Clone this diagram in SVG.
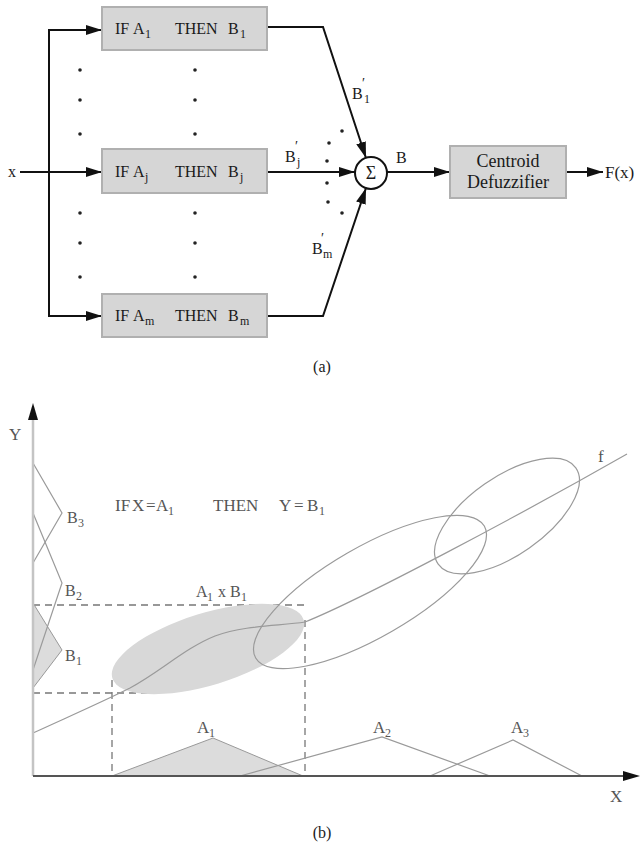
<svg xmlns="http://www.w3.org/2000/svg" width="641" height="844" viewBox="0 0 641 844">
<defs>
<style>
.t{font-family:"Liberation Serif","Times New Roman",serif;fill:#1a1a1a}
.g{font-family:"Liberation Serif","Times New Roman",serif;fill:#555}
.s12{font-size:12px}
.p{font-size:14px}
.s16{font-size:16px}
.s17{font-size:17px}
.s18{font-size:18px}
.box{fill:#d6d6d6;stroke:#b0b0b0;stroke-width:2}
.con{fill:none;stroke:#111;stroke-width:2}
.dot{fill:#222}
.thin{fill:none;stroke:#9a9a9a;stroke-width:1.2}
.dash{fill:none;stroke:#777;stroke-width:1.3;stroke-dasharray:7 5}
</style>
<marker id="ah" markerUnits="userSpaceOnUse" markerWidth="16" markerHeight="10" refX="16" refY="5" orient="auto">
<path d="M0,0 L16,5 L0,10 z" fill="#111"/>
</marker>
</defs>
<rect width="641" height="844" fill="#fff"/>

<!-- Part (a) -->
<g id="connectors">
<line class="con" x1="20" y1="172" x2="102" y2="172" marker-end="url(#ah)"/>
<line class="con" x1="49" y1="30" x2="49" y2="316"/>
<line class="con" x1="48" y1="30" x2="102" y2="30" marker-end="url(#ah)"/>
<line class="con" x1="48" y1="316" x2="102" y2="316" marker-end="url(#ah)"/>
<polyline class="con" points="267,27 323,27 366,158" marker-end="url(#ah)"/>
<line class="con" x1="267" y1="172" x2="355" y2="172" marker-end="url(#ah)"/>
<polyline class="con" points="267,316 323,316 366,188" marker-end="url(#ah)"/>
<line class="con" x1="387" y1="172" x2="450" y2="172" marker-end="url(#ah)"/>
<line class="con" x1="566" y1="172" x2="603" y2="172" marker-end="url(#ah)"/>
</g>

<g id="input-x"><text class="t s16" x="8" y="177">x</text></g>

<g id="rule1">
<rect class="box" x="102" y="7" width="165" height="43"/>
<text class="t s16" x="115" y="34">IF</text>
<text class="t s16" x="133" y="34">A<tspan class="s12" x="145" y="38">1</tspan></text>
<text class="t s16" x="175" y="34">THEN</text>
<text class="t s16" x="228" y="34">B<tspan class="s12" x="240" y="38">1</tspan></text>
</g>
<g id="rule-j">
<rect class="box" x="102" y="149" width="165" height="44"/>
<text class="t s16" x="115" y="177">IF</text>
<text class="t s16" x="133" y="177">A<tspan class="s12" x="145" y="181">j</tspan></text>
<text class="t s16" x="175" y="177">THEN</text>
<text class="t s16" x="228" y="177">B<tspan class="s12" x="240" y="181">j</tspan></text>
</g>
<g id="rule-m">
<rect class="box" x="102" y="294" width="165" height="43"/>
<text class="t s16" x="115" y="321">IF</text>
<text class="t s16" x="133" y="321">A<tspan class="s12" x="145" y="325">m</tspan></text>
<text class="t s16" x="175" y="321">THEN</text>
<text class="t s16" x="228" y="321">B<tspan class="s12" x="240" y="325">m</tspan></text>
</g>

<g id="dots">
<circle class="dot" cx="80" cy="70" r="1.8"/><circle class="dot" cx="80" cy="100" r="1.8"/><circle class="dot" cx="80" cy="134" r="1.8"/>
<circle class="dot" cx="195" cy="70" r="1.8"/><circle class="dot" cx="195" cy="100" r="1.8"/><circle class="dot" cx="195" cy="134" r="1.8"/>
<circle class="dot" cx="80" cy="213" r="1.8"/><circle class="dot" cx="80" cy="243" r="1.8"/><circle class="dot" cx="80" cy="277" r="1.8"/>
<circle class="dot" cx="195" cy="213" r="1.8"/><circle class="dot" cx="195" cy="243" r="1.8"/><circle class="dot" cx="195" cy="277" r="1.8"/>
<circle class="dot" cx="342" cy="131" r="1.8"/><circle class="dot" cx="329" cy="143" r="1.8"/><circle class="dot" cx="327" cy="161" r="1.8"/>
<circle class="dot" cx="327" cy="183" r="1.8"/><circle class="dot" cx="328" cy="202" r="1.8"/><circle class="dot" cx="342" cy="213" r="1.8"/>
</g>

<g id="labels-a">
<text class="t s16" x="352" y="99">B<tspan class="p" x="362" y="88">′</tspan><tspan class="s12" x="364" y="103">1</tspan></text>
<text class="t s16" x="285" y="162">B<tspan class="p" x="295" y="151">′</tspan><tspan class="s12" x="297" y="166">j</tspan></text>
<text class="t s16" x="312" y="254">B<tspan class="p" x="321" y="243">′</tspan><tspan class="s12" x="323" y="258">m</tspan></text>
<text class="t s16" x="396" y="163">B</text>
</g>

<g id="sum">
<circle cx="371" cy="173" r="16" fill="#fff" stroke="#111" stroke-width="2"/>
<text class="t s18" x="371" y="179" text-anchor="middle">Σ</text>
</g>

<g id="defuzzifier">
<rect class="box" x="450" y="146" width="116" height="52"/>
<text class="t s18" x="508" y="167" text-anchor="middle">Centroid</text>
<text class="t s18" x="508" y="188" text-anchor="middle">Defuzzifier</text>
</g>
<g id="output"><text class="t s17" x="605" y="178">F(x)</text></g>

<text class="t s16" x="322" y="372" text-anchor="middle">(a)</text>

<!-- Part (b) -->
<g id="plot-b">
<line class="dash" x1="33" y1="605" x2="305" y2="605"/>
<line class="dash" x1="33" y1="693" x2="148" y2="693"/>
<line class="dash" x1="112" y1="680" x2="112" y2="776"/>
<line class="dash" x1="305" y1="620" x2="305" y2="776"/>

<polygon points="112,776 213,738 303,776" fill="#dcdcdc" stroke="#999" stroke-width="1"/>
<polyline class="thin" points="240,776 382,737 490,776"/>
<polyline class="thin" points="430,776 513,740 582,776"/>

<polygon points="33,603 62,650 33,688" fill="#dcdcdc" stroke="#999" stroke-width="1"/>
<polyline class="thin" points="33,463 62,513 33,563"/>
<polyline class="thin" points="33,513 62,583 33,670"/>

<ellipse cx="208" cy="649" rx="100" ry="36" transform="rotate(-17 208 649)" fill="#d8d8d8"/>

<ellipse class="thin" cx="370" cy="592" rx="132" ry="45" transform="rotate(-30 370 592)"/>
<ellipse class="thin" cx="507" cy="516" rx="84" ry="39" transform="rotate(-35 507 516)"/>

<path class="thin" d="M33,733 C70,716 100,703 130,688 C160,672 185,648 215,636 C245,625 280,626 305,622 C360,600 520,515 627,454"/>

<line x1="33" y1="418" x2="33" y2="776" stroke="#c4c4c4" stroke-width="2.5"/>
<path d="M33,403 L38,420 L28,420 z" fill="#111"/>
<line x1="33" y1="776" x2="624" y2="776" stroke="#555" stroke-width="1.8"/>
<path d="M640,776 L623,771 L623,781 z" fill="#111"/>
</g>

<g id="labels-b">
<text class="g s17" x="9" y="440">Y</text>
<text class="g s17" x="610" y="802">X</text>
<text class="g s17" x="598" y="462">f</text>
<text class="g s16" x="67" y="523">B<tspan class="s12" x="78" y="527">3</tspan></text>
<text class="g s16" x="65" y="596">B<tspan class="s12" x="76" y="600">2</tspan></text>
<text class="g s16" x="65" y="661">B<tspan class="s12" x="76" y="665">1</tspan></text>
<text class="g s17" x="115" y="511">IF</text>
<text class="g s17" x="132" y="511">X</text>
<text class="g s17" x="146" y="511">=</text>
<text class="g s17" x="156" y="511">A<tspan class="s12" x="168" y="515">1</tspan></text>
<text class="g s17" x="213" y="511">THEN</text>
<text class="g s17" x="279" y="511">Y</text>
<text class="g s17" x="294" y="511">=</text>
<text class="g s17" x="307" y="511">B<tspan class="s12" x="319" y="515">1</tspan></text>
<text class="g s16" x="196" y="597">A<tspan class="s12" x="207" y="601">1</tspan><tspan x="218" y="597">x</tspan><tspan x="230" y="597">B</tspan><tspan class="s12" x="241" y="601">1</tspan></text>
<text class="g s17" x="197" y="733">A<tspan class="s12" x="209" y="737">1</tspan></text>
<text class="g s17" x="373" y="733">A<tspan class="s12" x="385" y="737">2</tspan></text>
<text class="g s17" x="511" y="733">A<tspan class="s12" x="523" y="737">3</tspan></text>
</g>

<text class="t s16" x="322" y="838" text-anchor="middle">(b)</text>
</svg>
